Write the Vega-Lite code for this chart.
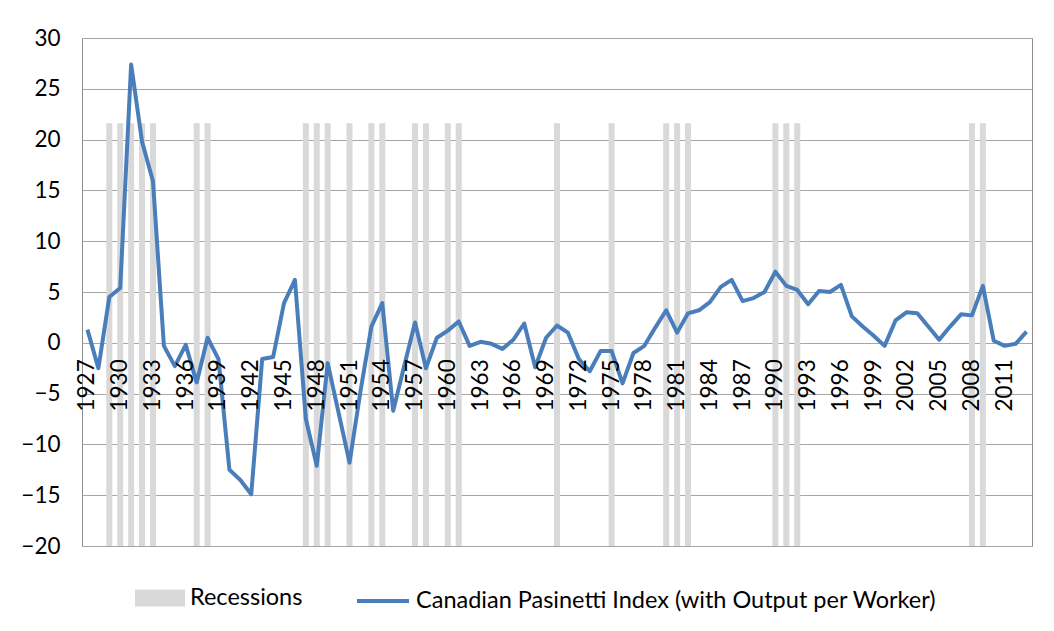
{
  "$schema": "https://vega.github.io/schema/vega-lite/v6.json",
  "width": 950,
  "height": 508,
  "autosize": "none",
  "padding": {"left": 82, "top": 38, "right": 22, "bottom": 85},
  "background": "white",
  "config": {
    "view": {"stroke": "#8c8c8c", "strokeWidth": 1},
    "font": "Lato",
    "axis": {"labelFont": "Lato", "labelFontSize": 22.5, "labelColor": "#000000", "title": null}
  },
  "data": {
    "values": [
      {"year": 1927, "value": 1.3, "rec": null},
      {"year": 1928, "value": -2.5, "rec": null},
      {"year": 1929, "value": 4.5, "rec": 21.6},
      {"year": 1930, "value": 5.4, "rec": 21.6},
      {"year": 1931, "value": 27.4, "rec": 21.6},
      {"year": 1932, "value": 19.8, "rec": 21.6},
      {"year": 1933, "value": 15.9, "rec": 21.6},
      {"year": 1934, "value": -0.3, "rec": null},
      {"year": 1935, "value": -2.3, "rec": null},
      {"year": 1936, "value": -0.2, "rec": null},
      {"year": 1937, "value": -3.9, "rec": 21.6},
      {"year": 1938, "value": 0.5, "rec": 21.6},
      {"year": 1939, "value": -1.6, "rec": null},
      {"year": 1940, "value": -12.5, "rec": null},
      {"year": 1941, "value": -13.5, "rec": null},
      {"year": 1942, "value": -14.9, "rec": null},
      {"year": 1943, "value": -1.6, "rec": null},
      {"year": 1944, "value": -1.4, "rec": null},
      {"year": 1945, "value": 3.9, "rec": null},
      {"year": 1946, "value": 6.2, "rec": null},
      {"year": 1947, "value": -7.5, "rec": 21.6},
      {"year": 1948, "value": -12.1, "rec": 21.6},
      {"year": 1949, "value": -2.0, "rec": 21.6},
      {"year": 1950, "value": -6.9, "rec": null},
      {"year": 1951, "value": -11.8, "rec": 21.6},
      {"year": 1952, "value": -4.8, "rec": null},
      {"year": 1953, "value": 1.6, "rec": 21.6},
      {"year": 1954, "value": 3.9, "rec": 21.6},
      {"year": 1955, "value": -6.7, "rec": null},
      {"year": 1956, "value": -2.3, "rec": null},
      {"year": 1957, "value": 2.0, "rec": 21.6},
      {"year": 1958, "value": -2.5, "rec": 21.6},
      {"year": 1959, "value": 0.5, "rec": null},
      {"year": 1960, "value": 1.2, "rec": 21.6},
      {"year": 1961, "value": 2.1, "rec": 21.6},
      {"year": 1962, "value": -0.3, "rec": null},
      {"year": 1963, "value": 0.1, "rec": null},
      {"year": 1964, "value": -0.1, "rec": null},
      {"year": 1965, "value": -0.6, "rec": null},
      {"year": 1966, "value": 0.3, "rec": null},
      {"year": 1967, "value": 1.9, "rec": null},
      {"year": 1968, "value": -2.4, "rec": null},
      {"year": 1969, "value": 0.5, "rec": null},
      {"year": 1970, "value": 1.7, "rec": 21.6},
      {"year": 1971, "value": 1.0, "rec": null},
      {"year": 1972, "value": -1.6, "rec": null},
      {"year": 1973, "value": -2.8, "rec": null},
      {"year": 1974, "value": -0.8, "rec": null},
      {"year": 1975, "value": -0.8, "rec": 21.6},
      {"year": 1976, "value": -4.0, "rec": null},
      {"year": 1977, "value": -1.0, "rec": null},
      {"year": 1978, "value": -0.3, "rec": null},
      {"year": 1979, "value": 1.5, "rec": null},
      {"year": 1980, "value": 3.2, "rec": 21.6},
      {"year": 1981, "value": 1.0, "rec": 21.6},
      {"year": 1982, "value": 2.9, "rec": 21.6},
      {"year": 1983, "value": 3.2, "rec": null},
      {"year": 1984, "value": 4.0, "rec": null},
      {"year": 1985, "value": 5.5, "rec": null},
      {"year": 1986, "value": 6.2, "rec": null},
      {"year": 1987, "value": 4.1, "rec": null},
      {"year": 1988, "value": 4.4, "rec": null},
      {"year": 1989, "value": 5.0, "rec": null},
      {"year": 1990, "value": 7.0, "rec": 21.6},
      {"year": 1991, "value": 5.6, "rec": 21.6},
      {"year": 1992, "value": 5.2, "rec": 21.6},
      {"year": 1993, "value": 3.8, "rec": null},
      {"year": 1994, "value": 5.1, "rec": null},
      {"year": 1995, "value": 5.0, "rec": null},
      {"year": 1996, "value": 5.7, "rec": null},
      {"year": 1997, "value": 2.6, "rec": null},
      {"year": 1998, "value": 1.6, "rec": null},
      {"year": 1999, "value": 0.7, "rec": null},
      {"year": 2000, "value": -0.3, "rec": null},
      {"year": 2001, "value": 2.2, "rec": null},
      {"year": 2002, "value": 3.0, "rec": null},
      {"year": 2003, "value": 2.9, "rec": null},
      {"year": 2004, "value": 1.6, "rec": null},
      {"year": 2005, "value": 0.3, "rec": null},
      {"year": 2006, "value": 1.6, "rec": null},
      {"year": 2007, "value": 2.8, "rec": null},
      {"year": 2008, "value": 2.7, "rec": 21.6},
      {"year": 2009, "value": 5.6, "rec": 21.6},
      {"year": 2010, "value": 0.2, "rec": null},
      {"year": 2011, "value": -0.3, "rec": null},
      {"year": 2012, "value": -0.1, "rec": null},
      {"year": 2013, "value": 1.1, "rec": null}
    ]
  },
  "encoding": {
    "x": {
      "field": "year",
      "type": "ordinal",
      "scale": {"type": "band", "paddingInner": 0, "paddingOuter": 0},
      "axis": {
        "orient": "bottom",
        "offset": -203.2,
        "zindex": 1,
        "values": [1927, 1930, 1933, 1936, 1939, 1942, 1945, 1948, 1951, 1954, 1957, 1960, 1963, 1966, 1969, 1972, 1975, 1978, 1981, 1984, 1987, 1990, 1993, 1996, 1999, 2002, 2005, 2008, 2011],
        "labelAngle": -90,
        "labelAlign": "right",
        "labelBaseline": "middle",
        "labelPadding": 16,
        "ticks": false,
        "domain": false,
        "grid": false,
        "labelOverlap": false,
        "labelFlush": false
      }
    }
  },
  "layer": [
    {
      "transform": [{"filter": "datum.rec != null"}],
      "mark": {"type": "bar", "width": {"band": 0.55}},
      "encoding": {
        "y": {
          "field": "rec",
          "type": "quantitative",
          "scale": {"domain": [-20, 30], "nice": false, "zero": false},
          "axis": {
            "values": [-20, -15, -10, -5, 0, 5, 10, 15, 20, 25, 30],
            "grid": true,
            "gridColor": "#a6a6a6",
            "gridWidth": 1,
            "ticks": false,
            "domain": false,
            "labelPadding": 22
          }
        },
        "y2": {"datum": -20},
        "fill": {
          "datum": "Recessions",
          "type": "nominal",
          "scale": {"range": ["#d9d9d9"]},
          "legend": {
            "orient": "none",
            "legendX": 53,
            "legendY": 535,
            "title": null,
            "padding": 0,
            "symbolType": "M-1,-0.34H1V0.34H-1Z",
            "symbolSize": 2500,
            "symbolStrokeWidth": 0,
            "labelFont": "Lato",
            "labelFontSize": 23.5,
            "labelColor": "#000000",
            "labelOffset": 5,
            "labelLimit": 0
          }
        }
      }
    },
    {
      "mark": {"type": "line", "strokeWidth": 4, "strokeJoin": "round"},
      "encoding": {
        "x": {"field": "year", "type": "ordinal", "bandPosition": 0.5},
        "y": {"field": "value", "type": "quantitative"},
        "stroke": {
          "datum": "Canadian Pasinetti Index (with Output per Worker)",
          "type": "nominal",
          "scale": {"range": ["#4a7ebb"]},
          "legend": {
            "orient": "none",
            "legendX": 273,
            "legendY": 535,
            "title": null,
            "padding": 0,
            "symbolType": "stroke",
            "symbolSize": 2704,
            "symbolStrokeWidth": 4,
            "labelFont": "Lato",
            "labelFontSize": 23.5,
            "labelColor": "#000000",
            "labelOffset": 5,
            "labelLimit": 0
          }
        }
      }
    }
  ]
}
